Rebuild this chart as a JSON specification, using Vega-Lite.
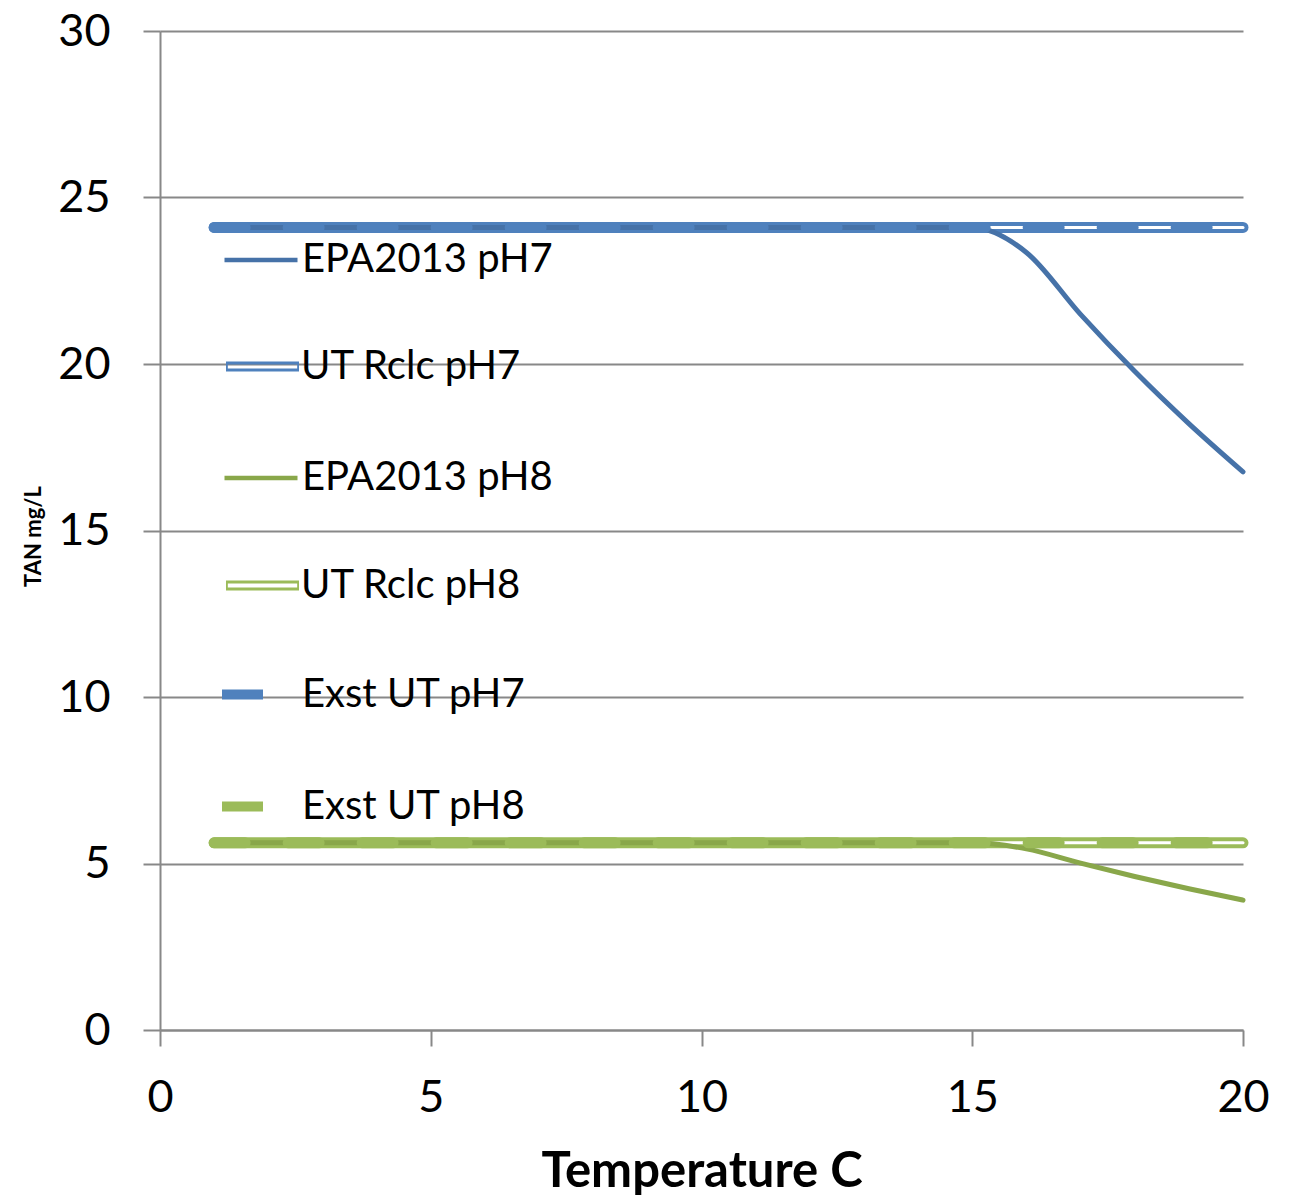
{
  "$schema": "https://vega.github.io/schema/vega-lite/v6.json",
  "width": 1083,
  "height": 999,
  "autosize": {"type": "none"},
  "padding": {"left": 160, "top": 31, "right": 61, "bottom": 167},
  "background": "white",
  "config": {"view": {"stroke": null}, "font": "Lato"},
  "data": {"values": [
    {"series": "UT Rclc pH7", "temp": 1, "tan": 24.1}, {"series": "UT Rclc pH7", "temp": 2, "tan": 24.1}, {"series": "UT Rclc pH7", "temp": 3, "tan": 24.1}, {"series": "UT Rclc pH7", "temp": 4, "tan": 24.1}, {"series": "UT Rclc pH7", "temp": 5, "tan": 24.1}, {"series": "UT Rclc pH7", "temp": 6, "tan": 24.1}, {"series": "UT Rclc pH7", "temp": 7, "tan": 24.1}, {"series": "UT Rclc pH7", "temp": 8, "tan": 24.1}, {"series": "UT Rclc pH7", "temp": 9, "tan": 24.1}, {"series": "UT Rclc pH7", "temp": 10, "tan": 24.1}, {"series": "UT Rclc pH7", "temp": 11, "tan": 24.1}, {"series": "UT Rclc pH7", "temp": 12, "tan": 24.1}, {"series": "UT Rclc pH7", "temp": 13, "tan": 24.1}, {"series": "UT Rclc pH7", "temp": 14, "tan": 24.1}, {"series": "UT Rclc pH7", "temp": 15, "tan": 24.1}, {"series": "UT Rclc pH7", "temp": 16, "tan": 24.1}, {"series": "UT Rclc pH7", "temp": 17, "tan": 24.1}, {"series": "UT Rclc pH7", "temp": 18, "tan": 24.1}, {"series": "UT Rclc pH7", "temp": 19, "tan": 24.1}, {"series": "UT Rclc pH7", "temp": 20, "tan": 24.1},
    {"series": "UT Rclc pH8", "temp": 1, "tan": 5.62}, {"series": "UT Rclc pH8", "temp": 2, "tan": 5.62}, {"series": "UT Rclc pH8", "temp": 3, "tan": 5.62}, {"series": "UT Rclc pH8", "temp": 4, "tan": 5.62}, {"series": "UT Rclc pH8", "temp": 5, "tan": 5.62}, {"series": "UT Rclc pH8", "temp": 6, "tan": 5.62}, {"series": "UT Rclc pH8", "temp": 7, "tan": 5.62}, {"series": "UT Rclc pH8", "temp": 8, "tan": 5.62}, {"series": "UT Rclc pH8", "temp": 9, "tan": 5.62}, {"series": "UT Rclc pH8", "temp": 10, "tan": 5.62}, {"series": "UT Rclc pH8", "temp": 11, "tan": 5.62}, {"series": "UT Rclc pH8", "temp": 12, "tan": 5.62}, {"series": "UT Rclc pH8", "temp": 13, "tan": 5.62}, {"series": "UT Rclc pH8", "temp": 14, "tan": 5.62}, {"series": "UT Rclc pH8", "temp": 15, "tan": 5.62}, {"series": "UT Rclc pH8", "temp": 16, "tan": 5.62}, {"series": "UT Rclc pH8", "temp": 17, "tan": 5.62}, {"series": "UT Rclc pH8", "temp": 18, "tan": 5.62}, {"series": "UT Rclc pH8", "temp": 19, "tan": 5.62}, {"series": "UT Rclc pH8", "temp": 20, "tan": 5.62},
    {"series": "EPA2013 pH7", "temp": 1, "tan": 24.1}, {"series": "EPA2013 pH7", "temp": 2, "tan": 24.1}, {"series": "EPA2013 pH7", "temp": 3, "tan": 24.1}, {"series": "EPA2013 pH7", "temp": 4, "tan": 24.1}, {"series": "EPA2013 pH7", "temp": 5, "tan": 24.1}, {"series": "EPA2013 pH7", "temp": 6, "tan": 24.1}, {"series": "EPA2013 pH7", "temp": 7, "tan": 24.1}, {"series": "EPA2013 pH7", "temp": 8, "tan": 24.1}, {"series": "EPA2013 pH7", "temp": 9, "tan": 24.1}, {"series": "EPA2013 pH7", "temp": 10, "tan": 24.1}, {"series": "EPA2013 pH7", "temp": 11, "tan": 24.1}, {"series": "EPA2013 pH7", "temp": 12, "tan": 24.1}, {"series": "EPA2013 pH7", "temp": 13, "tan": 24.1}, {"series": "EPA2013 pH7", "temp": 14, "tan": 24.1}, {"series": "EPA2013 pH7", "temp": 15, "tan": 24.1}, {"series": "EPA2013 pH7", "temp": 16, "tan": 23.35}, {"series": "EPA2013 pH7", "temp": 17, "tan": 21.49}, {"series": "EPA2013 pH7", "temp": 18, "tan": 19.78}, {"series": "EPA2013 pH7", "temp": 19, "tan": 18.21}, {"series": "EPA2013 pH7", "temp": 20, "tan": 16.76},
    {"series": "EPA2013 pH8", "temp": 1, "tan": 5.62}, {"series": "EPA2013 pH8", "temp": 2, "tan": 5.62}, {"series": "EPA2013 pH8", "temp": 3, "tan": 5.62}, {"series": "EPA2013 pH8", "temp": 4, "tan": 5.62}, {"series": "EPA2013 pH8", "temp": 5, "tan": 5.62}, {"series": "EPA2013 pH8", "temp": 6, "tan": 5.62}, {"series": "EPA2013 pH8", "temp": 7, "tan": 5.62}, {"series": "EPA2013 pH8", "temp": 8, "tan": 5.62}, {"series": "EPA2013 pH8", "temp": 9, "tan": 5.62}, {"series": "EPA2013 pH8", "temp": 10, "tan": 5.62}, {"series": "EPA2013 pH8", "temp": 11, "tan": 5.62}, {"series": "EPA2013 pH8", "temp": 12, "tan": 5.62}, {"series": "EPA2013 pH8", "temp": 13, "tan": 5.62}, {"series": "EPA2013 pH8", "temp": 14, "tan": 5.62}, {"series": "EPA2013 pH8", "temp": 15, "tan": 5.62}, {"series": "EPA2013 pH8", "temp": 16, "tan": 5.44}, {"series": "EPA2013 pH8", "temp": 17, "tan": 5.01}, {"series": "EPA2013 pH8", "temp": 18, "tan": 4.61}, {"series": "EPA2013 pH8", "temp": 19, "tan": 4.24}, {"series": "EPA2013 pH8", "temp": 20, "tan": 3.9},
    {"series": "Exst UT pH7", "temp": 1, "tan": 24.1}, {"series": "Exst UT pH7", "temp": 2, "tan": 24.1}, {"series": "Exst UT pH7", "temp": 3, "tan": 24.1}, {"series": "Exst UT pH7", "temp": 4, "tan": 24.1}, {"series": "Exst UT pH7", "temp": 5, "tan": 24.1}, {"series": "Exst UT pH7", "temp": 6, "tan": 24.1}, {"series": "Exst UT pH7", "temp": 7, "tan": 24.1}, {"series": "Exst UT pH7", "temp": 8, "tan": 24.1}, {"series": "Exst UT pH7", "temp": 9, "tan": 24.1}, {"series": "Exst UT pH7", "temp": 10, "tan": 24.1}, {"series": "Exst UT pH7", "temp": 11, "tan": 24.1}, {"series": "Exst UT pH7", "temp": 12, "tan": 24.1}, {"series": "Exst UT pH7", "temp": 13, "tan": 24.1}, {"series": "Exst UT pH7", "temp": 14, "tan": 24.1}, {"series": "Exst UT pH7", "temp": 15, "tan": 24.1}, {"series": "Exst UT pH7", "temp": 16, "tan": 24.1}, {"series": "Exst UT pH7", "temp": 17, "tan": 24.1}, {"series": "Exst UT pH7", "temp": 18, "tan": 24.1}, {"series": "Exst UT pH7", "temp": 19, "tan": 24.1}, {"series": "Exst UT pH7", "temp": 20, "tan": 24.1},
    {"series": "Exst UT pH8", "temp": 1, "tan": 5.62}, {"series": "Exst UT pH8", "temp": 2, "tan": 5.62}, {"series": "Exst UT pH8", "temp": 3, "tan": 5.62}, {"series": "Exst UT pH8", "temp": 4, "tan": 5.62}, {"series": "Exst UT pH8", "temp": 5, "tan": 5.62}, {"series": "Exst UT pH8", "temp": 6, "tan": 5.62}, {"series": "Exst UT pH8", "temp": 7, "tan": 5.62}, {"series": "Exst UT pH8", "temp": 8, "tan": 5.62}, {"series": "Exst UT pH8", "temp": 9, "tan": 5.62}, {"series": "Exst UT pH8", "temp": 10, "tan": 5.62}, {"series": "Exst UT pH8", "temp": 11, "tan": 5.62}, {"series": "Exst UT pH8", "temp": 12, "tan": 5.62}, {"series": "Exst UT pH8", "temp": 13, "tan": 5.62}, {"series": "Exst UT pH8", "temp": 14, "tan": 5.62}, {"series": "Exst UT pH8", "temp": 15, "tan": 5.62}, {"series": "Exst UT pH8", "temp": 16, "tan": 5.62}, {"series": "Exst UT pH8", "temp": 17, "tan": 5.62}, {"series": "Exst UT pH8", "temp": 18, "tan": 5.62}, {"series": "Exst UT pH8", "temp": 19, "tan": 5.62}, {"series": "Exst UT pH8", "temp": 20, "tan": 5.62}
  ]},
  "encoding": {
    "x": {
      "field": "temp", "type": "quantitative",
      "scale": {"domain": [0, 20], "nice": false, "zero": false},
      "axis": {
        "values": [0, 5, 10, 15, 20], "grid": false,
        "title": "Temperature C", "titleFont": "Lato", "titleFontSize": 49, "titleFontWeight": "bold", "titleColor": "black",
        "titleY": 156, "titleBaseline": "alphabetic", "titleAlign": "center",
        "labelFont": "Lato", "labelFontSize": 45, "labelColor": "black", "labelPadding": 29, "labelFlush": false, "labelOverlap": false,
        "tickSize": 16, "tickColor": "#888888", "tickWidth": 2,
        "domainColor": "#888888", "domainWidth": 2
      }
    },
    "y": {
      "field": "tan", "type": "quantitative",
      "scale": {"domain": [0, 30], "nice": false},
      "axis": {
        "values": [0, 5, 10, 15, 20, 25, 30], "grid": true, "gridColor": "#888888", "gridWidth": 2,
        "title": "TAN mg/L", "titleFont": "Lato", "titleFontSize": 22, "titleFontWeight": "bold", "titleColor": "black",
        "titleAngle": -90, "titleX": -127, "titleY": 505, "titleAlign": "center", "titleBaseline": "middle",
        "labelFont": "Lato", "labelFontSize": 45, "labelColor": "black", "labelPadding": 33, "labelFlush": false, "labelOverlap": false,
        "tickSize": 17, "tickColor": "#888888", "tickWidth": 2,
        "domainColor": "#888888", "domainWidth": 2
      }
    }
  },
  "layer": [
    {
      "transform": [{"filter": "indexof(datum.series, 'Rclc') >= 0"}],
      "mark": {"type": "line", "interpolate": "monotone", "strokeWidth": 11, "strokeCap": "round"},
      "encoding": {
        "stroke": {"field": "series", "type": "nominal",
          "scale": {"domain": ["UT Rclc pH7", "UT Rclc pH8", "Exst UT pH7", "Exst UT pH8"],
                    "range": ["#4F81BD", "#9BBB59", "#4F81BD", "#9BBB59"]},
          "legend": {
            "values": ["Exst UT pH7", "Exst UT pH8"],
            "orient": "none", "legendX": 57, "legendY": 622, "title": null, "padding": 0,
            "labelFont": "Lato", "labelFontSize": 40, "labelColor": "black", "labelLimit": 800, "labelOffset": 2,
            "symbolType": "stroke", "symbolSize": 5329, "rowPadding": 50,
            "symbolStrokeWidth": 10, "symbolDash": [41, 40]
          }
        }
      }
    },
    {
      "transform": [{"filter": "indexof(datum.series, 'Rclc') >= 0"}],
      "mark": {"type": "line", "interpolate": "monotone", "strokeWidth": 3, "color": "white", "strokeCap": "round"},
      "encoding": {"detail": {"field": "series", "type": "nominal"}}
    },
    {
      "transform": [{"filter": "indexof(datum.series, 'EPA') >= 0"}],
      "mark": {"type": "line", "interpolate": "monotone", "strokeWidth": 5, "strokeCap": "round"},
      "encoding": {
        "color": {"field": "series", "type": "nominal",
          "scale": {"domain": ["EPA2013 pH7", "EPA2013 pH8"], "range": ["#4672A8", "#89A74A"]},
          "legend": {
            "orient": "none", "legendX": 62, "legendY": 190, "title": null, "padding": 0,
            "labelFont": "Lato", "labelFontSize": 40, "labelColor": "black", "labelLimit": 800, "labelOffset": 2,
            "symbolType": "stroke", "symbolSize": 5329, "rowPadding": 159, "symbolStrokeWidth": 4.5
          }
        }
      }
    },
    {
      "transform": [{"filter": "indexof(datum.series, 'Exst') >= 0"}],
      "mark": {"type": "line", "interpolate": "monotone", "strokeWidth": 11, "strokeCap": "round", "strokeDash": [31, 43]},
      "encoding": {
        "stroke": {"field": "series", "type": "nominal"}
      }
    },
    {
      "transform": [{"filter": "indexof(datum.series, 'Rclc') >= 0"}],
      "mark": {"type": "point", "filled": true, "size": 0, "opacity": 1},
      "encoding": {
        "fill": {"field": "series", "type": "nominal",
          "scale": {"domain": ["UT Rclc pH7", "UT Rclc pH8"], "range": ["#4F81BD", "#9BBB59"]},
          "legend": {
            "orient": "none", "legendX": 66, "legendY": 299, "title": null, "padding": 0,
            "labelFont": "Lato", "labelFontSize": 40, "labelColor": "black", "labelLimit": 800, "labelOffset": 2,
            "symbolType": "M-1,-0.14H1V0.14H-1Z M-0.95,-0.055V0.055H0.95V-0.055Z",
            "symbolSize": 5329, "rowPadding": 162, "symbolStrokeWidth": 0
          }
        }
      }
    }
  ]
}
